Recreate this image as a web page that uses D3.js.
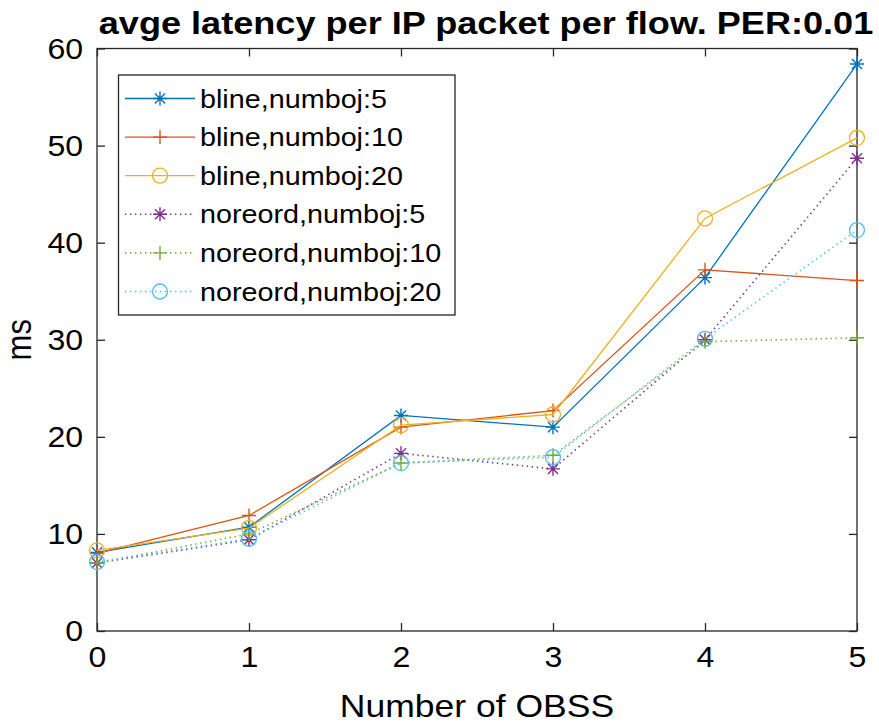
<!DOCTYPE html>
<html>
<head>
<meta charset="utf-8">
<script src="https://cdn.jsdelivr.net/npm/d3@7"></script>
<style>
  html, body { margin: 0; padding: 0; background: #fff; }
  svg { display: block; }
  text { font-family: "Liberation Sans", Arial, Helvetica, sans-serif; fill: #000; }
</style>
</head>
<body>
<svg id="chart" width="879" height="725"></svg>
<script>
// x-axis categories: number of overlapping BSSs
const obss = [0, 1, 2, 3, 4, 5];

// average latency (ms) per IP packet per flow
const blineNum5     = [8.1, 10.7, 22.2, 21.0, 36.4, 58.4];
const blineNum10    = [8.0, 11.9, 21.0, 22.7, 37.2, 36.1];
const blineNum20    = [8.3, 10.6, 21.2, 22.3, 42.5, 50.8];
const noreordNum5   = [7.0, 9.4, 18.3, 16.7, 30.0, 48.7];
const noreordNum10  = [7.0, 10.0, 17.3, 18.1, 29.8, 30.2];
const noreordNum20  = [7.1, 9.5, 17.3, 17.9, 30.1, 41.3];

const seriesNames = [
  "bline,numboj:5", "bline,numboj:10", "bline,numboj:20",
  "noreord,numboj:5", "noreord,numboj:10", "noreord,numboj:20"
];
const seriesValues = [blineNum5, blineNum10, blineNum20, noreordNum5, noreordNum10, noreordNum20];
const seriesColors = ["#0072BD", "#D95319", "#EDB120", "#7E2F8E", "#77AC30", "#4DBEEE"];
const seriesMarkers = ["star", "plus", "circle", "star", "plus", "circle"];
const seriesDotted = [false, false, false, true, true, true];

const xTicks = [0, 1, 2, 3, 4, 5];
const yTicks = [0, 10, 20, 30, 40, 50, 60];

const titleText = "avge latency per IP packet per flow. PER:0.01";
const xLabelText = "Number of OBSS";
const yLabelText = "ms";

const svg = d3.select("#chart");
const plot = { left: 97, right: 857, top: 48.5, bottom: 631 };
const axisColor = "#262626";
const stretch = 1.15;   // horizontal stretch of the figure's lettering

const x = d3.scaleLinear().domain([0, 5]).range([plot.left, plot.right]);
const y = d3.scaleLinear().domain([0, 60]).range([plot.bottom, plot.top]);

// axes box
svg.append("rect")
  .attr("x", plot.left).attr("y", plot.top)
  .attr("width", plot.right - plot.left).attr("height", plot.bottom - plot.top)
  .attr("fill", "none").attr("stroke", axisColor).attr("stroke-width", 1.3);

const tickLen = 8;
// bottom axis
const xAxis = svg.append("g").attr("transform", `translate(0,${plot.bottom})`)
  .call(d3.axisBottom(x).tickValues(xTicks).tickFormat(d3.format("d")).tickSizeInner(-tickLen).tickSizeOuter(0).tickPadding(15));
// left axis
const yAxis = svg.append("g").attr("transform", `translate(${plot.left},0)`)
  .call(d3.axisLeft(y).tickValues(yTicks).tickFormat(d3.format("d")).tickSizeInner(-tickLen).tickSizeOuter(0).tickPadding(13));
// top and right ticks (no labels)
svg.append("g").attr("transform", `translate(0,${plot.top})`)
  .call(d3.axisTop(x).tickValues(xTicks).tickFormat("").tickSizeInner(-tickLen).tickSizeOuter(0));
svg.append("g").attr("transform", `translate(${plot.right},0)`)
  .call(d3.axisRight(y).tickValues(yTicks).tickFormat("").tickSizeInner(-tickLen).tickSizeOuter(0));

svg.selectAll(".domain").remove();
svg.selectAll(".tick line").attr("stroke", axisColor).attr("stroke-width", 1.3);
[xAxis, yAxis].forEach(ax => ax.selectAll("text")
  .attr("font-size", 30).attr("fill", axisColor)
  .attr("transform", "scale(1.07,1)")
  .style("font-family", "'Liberation Sans', Arial, sans-serif"));

// stretched text helper
function stretchedText(px, py, str, size, opts = {}) {
  const t = svg.append("text")
    .attr("transform", `translate(${px},${py}) scale(${opts.sx || stretch},1)`)
    .attr("text-anchor", opts.anchor || "middle")
    .attr("font-size", size)
    .attr("fill", opts.fill || "#000")
    .text(str);
  if (opts.bold) t.attr("font-weight", "bold");
  return t;
}

// title
stretchedText((plot.left + plot.right) / 2 + 9, 34, titleText, 31, { bold: true, sx: 1.165 });

// axis labels
stretchedText((plot.left + plot.right) / 2, 717, xLabelText, 32, { fill: axisColor, sx: 1.11 });
svg.append("text")
  .attr("transform", `translate(31,${(plot.top + plot.bottom) / 2}) rotate(-90) scale(1,${stretch})`)
  .attr("text-anchor", "middle").attr("font-size", 31).attr("fill", axisColor)
  .text(yLabelText);

// marker drawing
function drawMarker(g, type, color, cx, cy) {
  const s = 7;
  if (type === "circle") {
    g.append("circle").attr("cx", cx).attr("cy", cy).attr("r", 7.5)
      .attr("fill", "none").attr("stroke", color).attr("stroke-width", 1.3);
  } else if (type === "plus") {
    g.append("path")
      .attr("d", `M${cx - s},${cy}H${cx + s}M${cx},${cy - s}V${cy + s}`)
      .attr("stroke", color).attr("stroke-width", 1.4).attr("fill", "none");
  } else {
    const d = s * 0.72;
    g.append("path")
      .attr("d", `M${cx - s},${cy}H${cx + s}M${cx},${cy - s}V${cy + s}` +
        `M${cx - d},${cy - d}L${cx + d},${cy + d}M${cx - d},${cy + d}L${cx + d},${cy - d}`)
      .attr("stroke", color).attr("stroke-width", 1.4).attr("fill", "none");
  }
}

const line = d3.line().x((d, i) => x(obss[i])).y(d => y(d));

const seriesG = svg.append("g");
seriesValues.forEach((vals, k) => {
  const g = seriesG.append("g");
  g.append("path")
    .attr("d", line(vals))
    .attr("fill", "none")
    .attr("stroke", seriesColors[k])
    .attr("stroke-width", seriesDotted[k] ? 1.6 : 1.3)
    .attr("stroke-dasharray", seriesDotted[k] ? "1.4,3.6" : null);
  vals.forEach((v, i) => drawMarker(g, seriesMarkers[k], seriesColors[k], x(obss[i]), y(v)));
});

// legend
const legend = { x: 118.5, y: 75, w: 336.5, h: 240, row0: 98.5, rowStep: 38.6 };
const lg = svg.append("g");
lg.append("rect")
  .attr("x", legend.x).attr("y", legend.y).attr("width", legend.w).attr("height", legend.h)
  .attr("fill", "#fff").attr("stroke", axisColor).attr("stroke-width", 1.3);
seriesNames.forEach((name, k) => {
  const cy = legend.row0 + k * legend.rowStep;
  lg.append("line")
    .attr("x1", 125).attr("x2", 195).attr("y1", cy).attr("y2", cy)
    .attr("stroke", seriesColors[k])
    .attr("stroke-width", seriesDotted[k] ? 1.6 : 1.3)
    .attr("stroke-dasharray", seriesDotted[k] ? "1.4,3.6" : null);
  drawMarker(lg, seriesMarkers[k], seriesColors[k], 160, cy);
  lg.append("text")
    .attr("transform", `translate(200,${cy + 9}) scale(${stretch},1)`)
    .attr("font-size", 25)
    .text(name);
});
</script>
</body>
</html>
